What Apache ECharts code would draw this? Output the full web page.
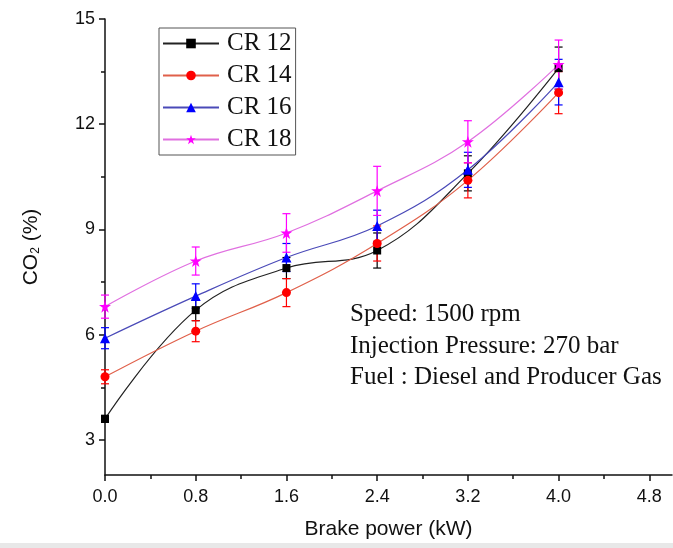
<!DOCTYPE html>
<html>
<head>
<meta charset="utf-8">
<script src="https://cdn.jsdelivr.net/npm/echarts@6/dist/echarts.min.js"></script>
<style>
  html, body { margin: 0; padding: 0; background: #fff; }
  #chart { width: 673px; height: 548px; }
</style>
</head>
<body>
<div id="chart"></div>
<script>
// ---- data ----
var brakePower = [0.0, 0.8, 1.6, 2.4, 3.2, 4.0];
var seriesNames = ['CR 12', 'CR 14', 'CR 16', 'CR 18'];
var cr12 = [3.6, 6.7, 7.9, 8.4, 10.6, 13.6];
var cr14 = [4.8, 6.1, 7.2, 8.6, 10.4, 12.9];
var cr16 = [5.9, 7.1, 8.2, 9.1, 10.7, 13.2];
var cr18 = [6.8, 8.1, 8.9, 10.1, 11.5, 13.7];
var err12 = [0.1, 0.3, 0.3, 0.5, 0.5, 0.6];
var err14 = [0.2, 0.3, 0.4, 0.5, 0.5, 0.6];
var err16 = [0.3, 0.35, 0.4, 0.45, 0.5, 0.65];
var err18 = [0.33, 0.4, 0.55, 0.7, 0.6, 0.7];
var xTickLabels = [0.0, 0.8, 1.6, 2.4, 3.2, 4.0, 4.8];
var xMinorTicks = [0.4, 1.2, 2.0, 2.8, 3.6, 4.4];
var yTickLabels = [3, 6, 9, 12, 15];
var yMinorTicks = [4.5, 7.5, 10.5, 13.5];
var notes = ['Speed: 1500 rpm', 'Injection Pressure: 270 bar', 'Fuel : Diesel and Producer Gas'];

var values = [cr12, cr14, cr16, cr18];
var errors = [err12, err14, err16, err18];
var markerColors = ['#000000', '#ff0000', '#0000ff', '#ff00ff'];
var lineColors = ['#222222', '#e0604a', '#4a4ab8', '#e070e0'];
var symbols = ['rect', 'circle', 'triangle', 'path://M50,0 L61.8,35.4 L100,35.4 L69.1,57.3 L80.9,95.1 L50,72.7 L19.1,95.1 L30.9,57.3 L0,35.4 L38.2,35.4 Z'];
var symbolSizes = [8, 9, 10, 12];

var sans = 'Liberation Sans';
var serif = 'Liberation Serif';

var chart = echarts.init(document.getElementById('chart'), null, { renderer: 'canvas' });

var series = [];
values.forEach(function (vals, i) {
  // error bars
  series.push({
    type: 'custom',
    name: seriesNames[i] + ' err',
    xAxisIndex: 0, yAxisIndex: 0,
    z: 1,
    silent: true,
    data: brakePower.map(function (x, j) { return [x, vals[j] - errors[i][j], vals[j] + errors[i][j]]; }),
    renderItem: function (params, api) {
      var lo = api.coord([api.value(0), api.value(1)]);
      var hi = api.coord([api.value(0), api.value(2)]);
      var w = 4;
      var st = { stroke: markerColors[i], lineWidth: 1.2 };
      return {
        type: 'group',
        children: [
          { type: 'line', shape: { x1: lo[0], y1: lo[1], x2: hi[0], y2: hi[1] }, style: st },
          { type: 'line', shape: { x1: lo[0] - w, y1: lo[1], x2: lo[0] + w, y2: lo[1] }, style: st },
          { type: 'line', shape: { x1: hi[0] - w, y1: hi[1], x2: hi[0] + w, y2: hi[1] }, style: st }
        ]
      };
    }
  });
});
values.forEach(function (vals, i) {
  series.push({
    type: 'line',
    name: seriesNames[i],
    xAxisIndex: 0, yAxisIndex: 0,
    z: 3,
    smooth: 0.4,
    data: brakePower.map(function (x, j) { return [x, vals[j]]; }),
    symbol: symbols[i],
    symbolSize: symbolSizes[i],
    showAllSymbol: true,
    lineStyle: { color: lineColors[i], width: 1.2 },
    itemStyle: { color: markerColors[i], borderWidth: 0 },
    emphasis: { disabled: true }
  });
});

var option = {
  backgroundColor: '#ffffff',
  animation: false,
  grid: { left: 105, right: 1, top: 19, bottom: 73, containLabel: false },
  legend: {
    data: seriesNames,
    orient: 'vertical',
    left: 159, top: 28,
    padding: [3, 4, 3, 3],
    itemWidth: 56, itemHeight: 12,
    itemGap: 7,
    borderColor: '#555', borderWidth: 1,
    textStyle: { fontFamily: serif, fontSize: 25, color: '#111', lineHeight: 25, padding: [0, 0, 0, 3] },
    selectedMode: false
  },
  xAxis: [{
    type: 'value', min: 0, max: 5.0,
    name: 'Brake power (kW)', nameLocation: 'middle', nameGap: 44,
    nameTextStyle: { fontFamily: sans, fontSize: 21, color: '#111' },
    axisLine: { show: true, lineStyle: { color: '#111', width: 1.5 } },
    axisTick: { show: true, inside: false, length: 6, customValues: xTickLabels, lineStyle: { color: '#111', width: 1.5 } },
    axisLabel: { customValues: xTickLabels, margin: 13, fontFamily: sans, fontSize: 18, color: '#111',
      formatter: function (v) { return v.toFixed(1); } },
    splitLine: { show: false }
  }, {
    type: 'value', min: 0, max: 5.0, position: 'bottom',
    axisLine: { show: false },
    axisTick: { show: true, inside: false, length: 4, customValues: xMinorTicks, lineStyle: { color: '#111', width: 1.5 } },
    axisLabel: { show: false },
    splitLine: { show: false }
  }],
  yAxis: [{
    type: 'value', min: 2, max: 15,
    name: 'CO{sub|2} (%)', nameLocation: 'middle', nameGap: 63,
    nameTextStyle: { fontFamily: sans, fontSize: 21, color: '#111',
      rich: { sub: { fontFamily: sans, fontSize: 12, verticalAlign: 'bottom', padding: [10, 0, 0, 0] } } },
    axisLine: { show: true, lineStyle: { color: '#111', width: 1.5 } },
    axisTick: { show: true, inside: false, length: 6, customValues: yTickLabels, lineStyle: { color: '#111', width: 1.5 } },
    axisLabel: { customValues: yTickLabels, margin: 10, fontFamily: sans, fontSize: 18, color: '#111' },
    splitLine: { show: false }
  }, {
    type: 'value', min: 2, max: 15, position: 'left',
    axisLine: { show: false },
    axisTick: { show: true, inside: false, length: 4, customValues: yMinorTicks, lineStyle: { color: '#111', width: 1.5 } },
    axisLabel: { show: false },
    splitLine: { show: false }
  }],
  graphic: notes.map(function (t, k) {
    return {
      type: 'text', left: 350, top: 302 + k * 31.5, z: 10,
      style: { text: t, fontFamily: serif, fontSize: 25, fill: '#111' }
    };
  }).concat([{
    type: 'rect', left: 0, top: 543, z: 0,
    shape: { width: 673, height: 5 },
    style: { fill: '#e8e8e8' }
  }]),
  series: series
};
chart.setOption(option);
</script>
</body>
</html>
